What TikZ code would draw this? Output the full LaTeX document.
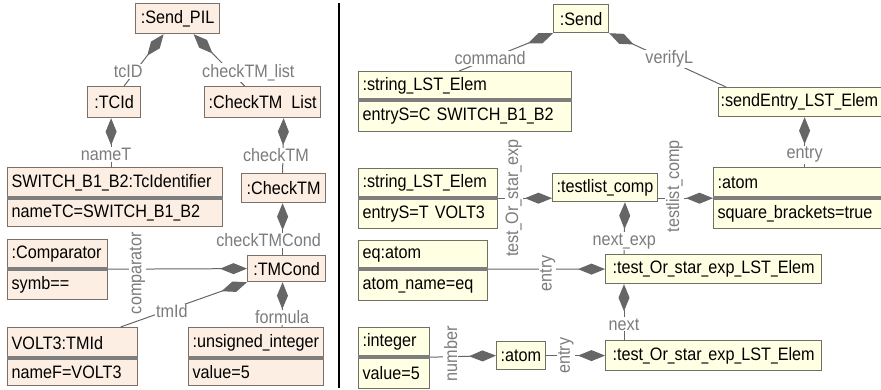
\documentclass[tikz,border=0pt]{standalone}
\usepackage{fontspec}
\setmainfont{Liberation Sans}[FakeStretch=0.9]
\usepackage{tikz}
\usetikzlibrary{calc}
\usetikzlibrary{arrows.meta}
\definecolor{peach}{HTML}{FCEEE2}
\definecolor{cream}{HTML}{FFFFE3}
\definecolor{edgeL}{HTML}{7A7068}
\definecolor{edgeR}{HTML}{707062}
\definecolor{linkgray}{HTML}{666666}
\definecolor{rolegray}{HTML}{7C7C7C}
\definecolor{bargray}{HTML}{7E7E7E}
\newcommand{\us}{\scalebox{0.75}[1]{\_}}
\tikzstyle{every node}=[font=\fontsize{18}{21}\selectfont]
\tikzstyle{objL}=[draw=edgeL, fill=peach, line width=1.2pt, anchor=north west, inner xsep=4pt, inner ysep=0pt, align=left]
\tikzstyle{objR}=[objL, draw=edgeR, fill=cream]
\tikzstyle{divbar}=[draw=bargray, line width=3.5pt]
\tikzstyle{link}=[draw=linkgray, line width=1pt, -{Diamond[length=27pt,width=11pt]}]
\tikzstyle{role}=[fill=white, text=rolegray, inner sep=1pt]
\tikzstyle{vrole}=[role, rotate=90]

\begin{document}
\begin{tikzpicture}[x=1pt, y=-1pt]
                \useasboundingbox (0,0) rectangle (881,390);
                % left: Send_PIL
                \node[objL, minimum width=84pt, minimum height=30pt] (sendpil) at (135,3) {:Send\us PIL};
                \node[objL, minimum width=53pt, minimum height=31pt] (tcid) at (87,86) {:TCId};
                \node[objL, minimum width=114pt, minimum height=31pt] (cml) at (204,86) {:CheckTM~~List};
                \node[objL, text width=207pt, minimum height=30pt] (swt) at (7,167) {SWITCH\us B1\us B2:TcIdentifier};
                \node[objL, text width=207pt, minimum height=28pt] (swtv) at (swt.south west) {nameTC=SWITCH\us B1\us B2};
                \node[objL, minimum width=84pt, minimum height=29pt] (ctm) at (241,173) {:CheckTM};
                \node[objL, text width=92pt, minimum height=29pt] (cmp) at (7,239) {:Comparator};
                \node[objL, text width=92pt, minimum height=30pt] (cmpv) at (cmp.south west) {symb==};
                \node[objL, minimum width=78pt, minimum height=26pt] (tmc) at (247,255) {:TMCond};
                \node[objL, text width=122pt, minimum height=30pt] (volt) at (7,327) {VOLT3:TMId};
                \node[objL, text width=122pt, minimum height=27pt] (voltv) at (volt.south west) {nameF=VOLT3};
                \node[objL, text width=127pt, minimum height=30pt] (uint) at (188,327) {:unsigned\us integer};
                \node[objL, text width=127pt, minimum height=27pt] (uintv) at (uint.south west) {value=5};
                \draw[divbar] (swt.south west) -- (swt.south east);
                \draw[divbar] (cmp.south west) -- (cmp.south east);
                \draw[divbar] (volt.south west) -- (volt.south east);
                \draw[divbar] (uint.south west) -- (uint.south east);

                \draw[link] ([xshift=10pt]tcid.north) -- node[role, pos=0.28, xshift=-7pt] {tcID} ([xshift=-14pt]sendpil.south);
                \draw[link] ([xshift=-18pt]cml.north) -- node[role, pos=0.26, xshift=17pt] {checkTM\us list} ([xshift=16pt]sendpil.south);
                \draw[link] ([xshift=-4pt]swt.north) -- node[role, pos=0.26, xshift=-5pt] {nameT} ([xshift=-3pt]tcid.south);
                \draw[link] ([xshift=-1pt]ctm.north) -- node[role, pos=0.32, xshift=-7pt] {checkTM} ([xshift=21pt]cml.south);
                \draw[link] ([xshift=-4pt]tmc.north) -- node[role, pos=0.28, xshift=-14pt] {checkTMCond} ([xshift=-1pt]ctm.south);
                \draw[link] (cmp.south east) -- node[vrole, pos=0.21, xshift=-4pt] {comparator} (tmc.west);
                \draw[link] ([xshift=48pt]volt.north) -- node[role, pos=0.35, xshift=7pt] {tmId} (tmc.south west);
                \draw[link] ([xshift=26pt]uint.north) -- node[role, pos=0.22] {formula} ([xshift=-4pt]tmc.south);

                \draw[line width=1.6pt] (339,3) -- (339,388);

                % right: Send
                \node[objR, minimum width=55pt, minimum height=28pt] (send) at (553,4) {:Send};
                \node[objR, text width=205pt, minimum height=28pt] (sl1) at (358,71) {:string\us LST\us Elem};
                \node[objR, text width=205pt, minimum height=31pt] (sl1v) at (sl1.south west) {\mbox{entryS=C SWITCH\us B1\us B2}};
                \node[objR, inner xsep=2pt, text width=168pt, minimum height=29pt] (sen) at (718,87) {:sendEntry\us LST\us Elem};
                \node[objR, text width=131pt, minimum height=29pt] (sl2) at (358,168) {:string\us LST\us Elem};
                \node[objR, text width=131pt, minimum height=30pt] (sl2v) at (sl2.south west) {\mbox{entryS=T VOLT3}};
                \node[objR, minimum width=104pt, minimum height=28pt] (tlc) at (552,173) {:testlist\us comp};
                \node[objR, text width=174pt, minimum height=30pt] (atm) at (713,167) {:atom};
                \node[objR, text width=174pt, minimum height=30pt] (atmv) at (atm.south west) {square\us brackets=true};
                \node[objR, text width=121pt, minimum height=28pt] (eqa) at (358,240) {eq:atom};
                \node[objR, text width=121pt, minimum height=31pt] (eqav) at (eqa.south west) {atom\us name=eq};
                \node[objR, minimum width=216pt, minimum height=29pt] (tse1) at (605,254) {:test\us Or\us star\us exp\us LST\us Elem};
                \node[objR, text width=63pt, minimum height=29pt] (int) at (358,327) {:integer};
                \node[objR, text width=63pt, minimum height=31pt] (intv) at (int.south west) {value=5};
                \node[objR, minimum width=48pt, minimum height=28pt] (atm2) at (496,341) {:atom};
                \node[objR, minimum width=216pt, minimum height=30pt] (tse2) at (605,340) {:test\us Or\us star\us exp\us LST\us Elem};
                \draw[divbar] (sl1.south west) -- (sl1.south east);
                \draw[divbar] (sl2.south west) -- (sl2.south east);
                \draw[divbar] (atm.south west) -- (atm.south east);
                \draw[divbar] (eqa.south west) -- (eqa.south east);
                \draw[divbar] (int.south west) -- (int.south east);

                \draw[link] ([xshift=-6pt]sl1.north) -- node[role, pos=0.33] {command} (send.south west);
                \draw[link] ([xshift=8pt]sen.north west) -- node[role, pos=0.52, xshift=4pt] {verifyL} (send.south east);
                \draw[link] (atm.north) -- node[role, pos=0.24] {entry} (sen.south);
                \draw[link] (sl2.south east) -- node[vrole, pos=0.29] {test\us Or\us star\us exp} (sl2.south east -| tlc.west);
                \draw[link] (tlc.east |- atm.south west) -- node[vrole, pos=0.3, xshift=12pt] {testlist\us comp} (atm.south west);
                \draw[link] ([xshift=19pt]tse1.north west) -- node[role, pos=0.25] {next\us exp} ([xshift=20pt]tlc.south);
                \draw[link] (eqa.south east) -- node[vrole, pos=0.51, xshift=-4pt] {entry} (tse1.west);
                \draw[link] ([xshift=19pt]tse2.north west) -- node[role, pos=0.28] {next} ([xshift=19pt]tse1.south west);
                \draw[link] (int.south east) -- node[vrole, pos=0.31, xshift=3pt] {number} (atm2.west);
                \draw[link] (atm2.east) -- node[vrole, pos=0.34] {entry} (tse2.west);
            \end{tikzpicture}
\end{document}
